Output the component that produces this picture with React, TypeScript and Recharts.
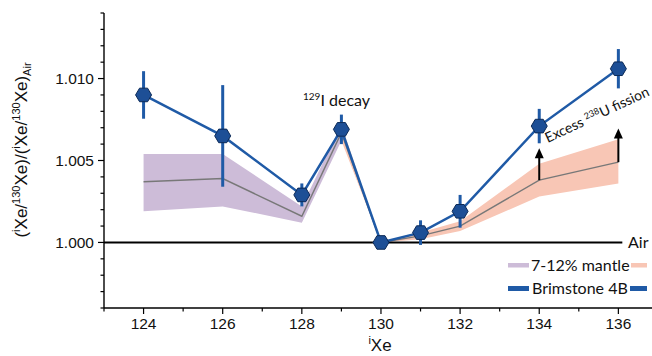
import React from 'react'
import {
  ComposedChart,
  Line,
  Area,
  XAxis,
  YAxis,
  ErrorBar,
  ReferenceLine,
  Customized,
} from 'recharts'

// isotope masses and ratios
const isotopes = [124, 126, 128, 129, 130, 131, 132, 134, 136]
const brimstone = [1.009, 1.0065, 1.0029, 1.0069, 1.0, 1.0006, 1.0019, 1.0071, 1.0106]
const brimstoneErr = [0.00145, 0.0031, 0.0007, 0.0009, 0, 0.00075, 0.001, 0.00105, 0.0012]
const mantleMid = [1.0037, 1.0039, 1.0016, 1.0067, 1.0, 1.0004, 1.001, 1.0038, 1.0049]
const mantleLow = [1.0019, 1.0022, 1.0012, 1.0062, 1.0, 1.0002, 1.0007, 1.0028, 1.0036]
const mantleHigh = [1.0054, 1.0054, 1.0022, 1.0072, 1.0, 1.0006, 1.0013, 1.0048, 1.0063]
// the purple part of the band runs to 129, the salmon part from 129
const purpleUntil = 129

const xTicks = [123, 124, 125, 126, 127, 128, 129, 130, 131, 132, 133, 134, 135, 136]
const yTicks = [
  0.996, 0.997, 0.998, 0.999, 1.0, 1.001, 1.002, 1.003, 1.004, 1.005, 1.006, 1.007, 1.008,
  1.009, 1.01, 1.011, 1.012, 1.013, 1.014,
]

// arrows for excess fission: [x, from, to]
const arrows: [number, number, number][] = [
  [134, 1.0038, 1.00575],
  [136, 1.0049, 1.00695],
]

const data = isotopes.map((x, i) => ({
  x,
  b: brimstone[i],
  err: brimstoneErr[i],
  mid: mantleMid[i],
  purple: x <= purpleUntil ? [mantleLow[i], mantleHigh[i]] : undefined,
  salmon: x >= purpleUntil ? [mantleLow[i], mantleHigh[i]] : undefined,
}))

const BLUE = '#1f5aa6'
const PURPLE = '#cdbcd8'
const SALMON = '#f8c6b5'
const SANS = '"Liberation Sans", Arial, sans-serif'
const MYRIAD = 'Lato, "Noto Sans", sans-serif'

function Hexagon(props: any) {
  const { cx, cy } = props
  if (cx == null || cy == null) return null
  const r = 8
  const h = r * 0.85
  const pts = [
    [cx - r, cy],
    [cx - r / 2, cy - h],
    [cx + r / 2, cy - h],
    [cx + r, cy],
    [cx + r / 2, cy + h],
    [cx - r / 2, cy + h],
  ]
    .map((p) => p.join(','))
    .join(' ')
  return <polygon key={`hex-${cx}`} points={pts} fill="#1d4f96" stroke="#0c2a57" strokeWidth={1} />
}

function YTick(props: any) {
  const { x, y, payload } = props
  const v = payload.value as number
  const major = Math.round(v * 1000) % 5 === 0
  return (
    <g>
      <line x1={x - (major ? 6 : 3.5)} x2={x} y1={y} y2={y} stroke="#000" strokeWidth={1.2} />
      {major && (
        <text x={x - 10} y={y} dy="0.36em" textAnchor="end" fontFamily={SANS} fontSize={15.5} fill="#111">
          {v.toFixed(3)}
        </text>
      )}
    </g>
  )
}

function XTick(props: any) {
  const { x, y, payload } = props
  const v = payload.value as number
  const major = v % 2 === 0
  return (
    <g>
      <line x1={x} x2={x} y1={y} y2={y + (major ? 6 : 3.5)} stroke="#000" strokeWidth={1.2} />
      {major && (
        <text x={x} y={y + 21} textAnchor="middle" fontFamily={SANS} fontSize={15.5} fill="#111">
          {v}
        </text>
      )}
    </g>
  )
}

function Arrow(props: any) {
  const { x1, y1, x2, y2 } = props
  return (
    <g>
      <line x1={x1} y1={y1} x2={x2} y2={y2 + 8} stroke="#000" strokeWidth={2} />
      <polygon points={`${x2},${y2} ${x2 - 4.5},${y2 + 10} ${x2 + 4.5},${y2 + 10}`} fill="#000" />
    </g>
  )
}

function Annotations() {
  return (
    <g>
      {/* y axis title */}
      <text
        transform="translate(27,150) rotate(-90)"
        textAnchor="middle"
        fontFamily={SANS}
        fontSize={17}
        fill="#111"
      >
        <tspan>(</tspan>
        <tspan fontSize={11} dy={-7}>i</tspan>
        <tspan dy={7}>Xe/</tspan>
        <tspan fontSize={11} dy={-7}>130</tspan>
        <tspan dy={7}>Xe)/(</tspan>
        <tspan fontSize={11} dy={-7}>i</tspan>
        <tspan dy={7}>Xe/</tspan>
        <tspan fontSize={11} dy={-7}>130</tspan>
        <tspan dy={7}>Xe)</tspan>
        <tspan fontSize={11} dy={4}>Air</tspan>
      </text>
      {/* x axis title */}
      <text x={380} y={351} textAnchor="middle" fontFamily={SANS} fontSize={17} fill="#111">
        <tspan fontSize={11} dy={-7}>i</tspan>
        <tspan dy={7}>Xe</tspan>
      </text>
      <text x={303} y={106} fontFamily={MYRIAD} fontSize={16} fill="#111">
        <tspan fontSize={10} dy={-6}>129</tspan>
        <tspan dy={6}>I decay</tspan>
      </text>
      <text
        transform="translate(599,119) rotate(-25)"
        textAnchor="middle"
        fontFamily={MYRIAD}
        fontSize={14}
        fill="#111"
      >
        <tspan>Excess </tspan>
        <tspan fontSize={9} dy={-5}>238</tspan>
        <tspan dy={5}>U fission</tspan>
      </text>
      <text x={628} y={248} fontFamily={MYRIAD} fontSize={16} fill="#111">
        Air
      </text>
      {/* legend */}
      <rect x={508} y={263} width={21} height={4.5} fill={PURPLE} />
      <text x={531} y={270.5} fontFamily={MYRIAD} fontSize={16} fill="#111">
        7-12% mantle
      </text>
      <rect x={631} y={263} width={16} height={4.5} fill={SALMON} />
      <rect x={508} y={286} width={21} height={5} fill={BLUE} />
      <text x={532} y={294} fontFamily={MYRIAD} fontSize={16} fill="#111">
        Brimstone 4B
      </text>
      <rect x={630} y={286} width={17} height={5} fill={BLUE} />
    </g>
  )
}

export default function App() {
  return (
    <div style={{ position: 'absolute', left: 0, top: 0, width: 652, height: 356, background: '#fff' }}>
      <ComposedChart width={652} height={356} data={data} margin={{ top: 13, right: 0, left: 0, bottom: 0 }}>
        <XAxis
          type="number"
          dataKey="x"
          domain={[123, 136.85]}
          ticks={xTicks}
          interval={0}
          allowDataOverflow
          height={48}
          tickSize={0}
          tickMargin={0}
          tickLine={false}
          axisLine={{ stroke: '#000', strokeWidth: 1.4 }}
          tick={<XTick />}
        />
        <YAxis
          type="number"
          domain={[0.996, 1.014]}
          ticks={yTicks}
          interval={0}
          allowDataOverflow
          width={104}
          tickSize={0}
          tickMargin={0}
          tickLine={false}
          axisLine={{ stroke: '#000', strokeWidth: 1.4 }}
          tick={<YTick />}
        />
        <Area
          type="linear"
          dataKey="purple"
          fill={PURPLE}
          fillOpacity={1}
          stroke="none"
          isAnimationActive={false}
        />
        <Area
          type="linear"
          dataKey="salmon"
          fill={SALMON}
          fillOpacity={1}
          stroke="none"
          isAnimationActive={false}
        />
        <Line
          type="linear"
          dataKey="mid"
          stroke="#787878"
          strokeWidth={1.4}
          dot={false}
          isAnimationActive={false}
        />
        <ReferenceLine
          segment={[
            { x: 123, y: 1 },
            { x: 136.1, y: 1 },
          ]}
          stroke="#000"
          strokeWidth={2}
        />
        {arrows.map(([x, from, to]) => (
          <ReferenceLine
            key={`arrow-${x}`}
            segment={[
              { x, y: from },
              { x, y: to },
            ]}
            shape={<Arrow />}
          />
        ))}
        <Line
          type="linear"
          dataKey="b"
          stroke={BLUE}
          strokeWidth={2.5}
          dot={<Hexagon />}
          activeDot={false}
          isAnimationActive={false}
        >
          <ErrorBar dataKey="err" width={0} stroke={BLUE} strokeWidth={3} direction="y" />
        </Line>
        <Customized component={Annotations} />
      </ComposedChart>
    </div>
  )
}
